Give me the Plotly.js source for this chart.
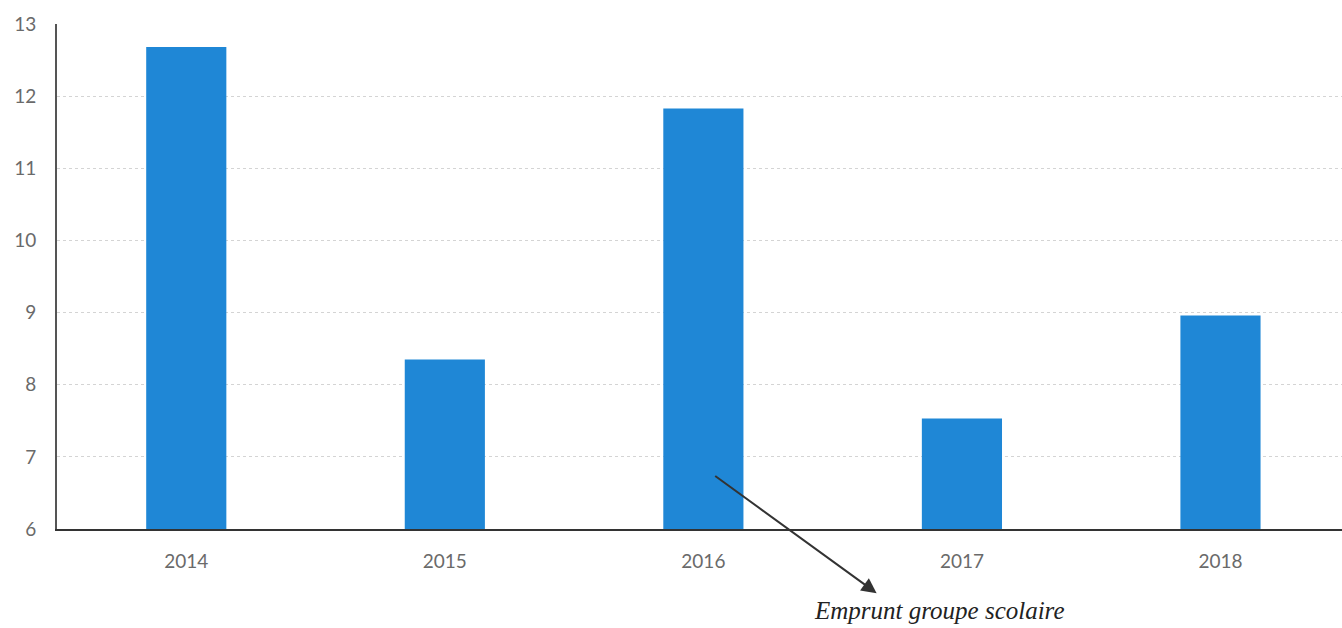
<!DOCTYPE html>
<html>
<head>
<meta charset="utf-8">
<script src="https://cdn.plot.ly/plotly-3.0.1.min.js"></script>
<style>html,body{margin:0;padding:0;background:#fff;}#chart{width:1342px;height:628px;}</style>
</head>
<body>
<div id="chart"></div>
<script>
const years = ['2014', '2015', '2016', '2017', '2018'];
const values = [12.68, 8.35, 11.83, 7.53, 8.96];
const yTicks = [6, 7, 8, 9, 10, 11, 12, 13];
const noteText = 'Emprunt groupe scolaire';

const trace = {
  type: 'bar',
  x: years,
  y: values,
  marker: {color: '#1f87d6'},
  width: 0.31,
  hoverinfo: 'x+y'
};

const layout = {
  width: 1342,
  height: 628,
  margin: {l: 57, r: 0, t: 24, b: 99},
  paper_bgcolor: '#ffffff',
  plot_bgcolor: '#ffffff',
  showlegend: false,
  font: {family: 'Lato, "Open Sans", sans-serif', size: 16, color: '#666666'},
  xaxis: {
    type: 'category',
    range: [-0.5, 4.47],
    showgrid: false,
    showline: true,
    linecolor: '#333333',
    linewidth: 2,
    ticks: '',
    ticklabelstandoff: 14,
    tickfont: {size: 19, color: '#6a6a6a'},
    zeroline: false
  },
  yaxis: {
    range: [6, 13],
    tickvals: yTicks,
    ticktext: yTicks.map(String),
    showgrid: true,
    gridcolor: '#d4d4d4',
    griddash: 'dot',
    gridwidth: 1,
    showline: true,
    linecolor: '#555555',
    linewidth: 2,
    ticks: '',
    ticklabelstandoff: 15,
    tickfont: {size: 19, color: '#6a6a6a'},
    zeroline: false
  },
  annotations: [
    {
      xref: 'x', yref: 'y', axref: 'x', ayref: 'y',
      x: 2.67, y: 5.11,
      ax: 2.04, ay: 6.75,
      text: '',
      showarrow: true,
      arrowhead: 2,
      arrowsize: 1.5,
      arrowwidth: 2,
      arrowcolor: '#333333'
    },
    {
      xref: 'paper', yref: 'paper',
      x: 0.687, y: -0.162,
      xanchor: 'center', yanchor: 'middle',
      text: noteText,
      showarrow: false,
      font: {family: '"Liberation Serif", "DejaVu Serif", serif', size: 25, color: '#222222', style: 'italic'}
    }
  ]
};

Plotly.newPlot('chart', [trace], layout, {displayModeBar: false, staticPlot: true});
</script>
</body>
</html>
